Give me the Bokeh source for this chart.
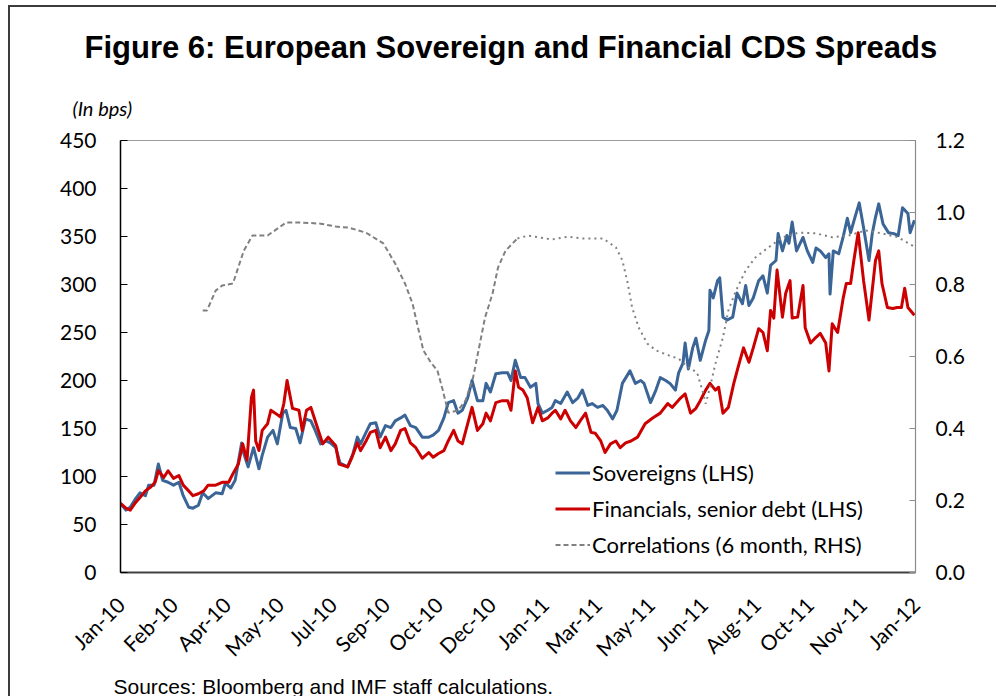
import pandas as pd
from bokeh.plotting import figure
from bokeh.models import (Range1d, LinearAxis, FixedTicker, Title, Legend, LegendItem,
                          NumeralTickFormatter, ColumnDataSource)
from bokeh.embed import file_html
from bokeh.resources import INLINE
import math

START = "2010-01-04"

# days since 2010-01-04
sov_days = [0,5,9,14,18,23,26,31,35,39,44,49,54,58,63,67,72,76,81,88,94,97,102,106,112,114,118,123,128,131,
            136,141,145,150,153,157,162,166,171,176,180,185,190,194,199,203,210,215,219,222,227,231,236,240,245,250,254,259,263,268,
            273,279,285,289,294,299,303,308,312,316,321,325,330,335,338,342,347,353,358,361,365,370,374,379,384,386,390,395,399,402,
            407,413,418,423,427,432,436,441,446,450,455,459,464,471,476,481,484,490,495,499,504,508,513,516,520,522,525,529,532,536,
            541,544,545,548,552,554,557,561,566,570,575,578,581,585,590,594,598,601,606,608,612,616,618,621,625,631,635,640,643,647,
            652,655,656,659,664,668,672,675,679,683,687,692,695,698,701,705,710,715,719,723,728,730,734]
sov_vals = [72,65,68,77,83,80,91,91,113,96,94,91,94,80,68,67,70,83,77,83,82,93,88,96,135,124,110,130,108,122,
            141,148,134,166,169,151,150,135,160,158,148,134,137,135,130,114,110,124,141,134,146,155,156,141,153,151,158,161,164,153,
            151,141,141,143,148,161,177,179,166,169,182,200,179,179,197,188,207,208,208,200,221,203,203,193,197,176,166,169,172,179,
            176,188,177,182,190,174,176,172,174,169,160,169,197,210,197,200,197,177,190,203,200,197,190,208,218,239,212,234,244,221,
            242,252,294,286,304,307,266,263,266,291,280,299,278,286,304,309,291,320,325,353,335,351,343,365,335,349,335,323,338,335,
            328,332,290,335,332,349,369,354,370,385,359,325,353,370,384,363,354,353,351,380,374,354,367]

fin_days = [0,5,9,14,18,23,28,32,35,40,44,49,54,58,63,67,72,77,81,88,94,100,104,109,113,117,121,123,125,128,
            131,136,139,143,148,151,154,159,165,168,172,176,180,187,192,199,202,210,214,219,222,227,231,236,240,245,250,254,259,263,
            268,273,279,285,289,294,299,303,308,312,316,321,325,330,335,338,342,347,353,358,361,365,368,372,376,381,386,390,395,399,
            402,407,411,416,421,425,430,435,439,444,448,453,458,462,467,472,478,485,492,499,506,510,518,522,527,532,536,541,545,550,
            553,557,562,567,571,576,581,585,590,594,598,601,604,607,612,615,619,621,626,631,633,638,643,647,652,655,658,663,668,671,
            675,678,682,687,692,695,698,701,704,709,714,718,722,725,728,734]
fin_vals = [72,67,65,73,78,85,89,94,106,99,106,98,101,91,85,80,82,85,91,91,94,94,103,113,134,117,182,190,137,127,
            148,155,169,166,162,176,200,171,169,148,169,172,158,134,141,132,113,110,120,135,127,137,146,148,130,141,127,134,148,150,
            135,130,119,125,120,124,127,137,148,137,134,155,172,148,155,166,158,177,179,179,169,210,193,190,182,156,172,158,161,166,
            169,160,169,158,151,158,166,146,145,137,125,134,137,130,135,137,141,155,161,166,176,172,182,186,166,171,179,190,197,190,
            193,166,172,197,214,234,219,234,254,250,231,273,265,315,266,291,304,265,266,299,255,239,245,249,239,210,259,250,285,301,
            301,325,354,304,263,294,325,335,301,276,275,276,276,296,276,268]

corr_days = [76,80,88,94,104,114,122,136,153,168,185,199,211,227,243,254,263,270,275,280,
             287,293,298,303,312,319,326,331,337,344,349,356,367,377,399,414,427,446,458,464,
             469,473,479,487,495,507,516,525,533,538,541,545,550,557,562,569,578,587,599,612,
             627,643,658,673,689,704,719,735]
corr_vals = [0.728,0.728,0.783,0.797,0.803,0.894,0.936,0.936,0.972,0.972,0.969,0.961,0.958,0.944,0.914,0.858,0.803,0.747,0.681,0.617,
             0.583,0.561,0.506,0.444,0.450,0.478,0.542,0.617,0.708,0.775,0.847,0.894,0.928,0.936,0.925,0.933,0.928,0.928,0.903,0.867,
             0.803,0.736,0.681,0.636,0.617,0.603,0.594,0.569,0.556,0.506,0.469,0.514,0.58,0.653,0.728,0.783,0.839,0.875,0.903,0.931,
             0.944,0.942,0.931,0.936,0.950,0.942,0.931,0.903]

xtick_labels = ["Jan-10","Feb-10","Apr-10","May-10","Jul-10","Sep-10","Oct-10","Dec-10",
                "Jan-11","Mar-11","May-11","Jun-11","Aug-11","Oct-11","Nov-11","Jan-12"]
left_ticks = [0,50,100,150,200,250,300,350,400,450]
right_ticks = [0.0,0.2,0.4,0.6,0.8,1.0,1.2]

t0 = pd.Timestamp(START)
def to_dt(days):
    return [t0 + pd.Timedelta(days=d) for d in days]
def ms(ts):
    return int((ts - pd.Timestamp("1970-01-01")) // pd.Timedelta(milliseconds=1))

tick_ts = [t0 + pd.Timedelta(days=49 * k) for k in range(len(xtick_labels))]
tick_ms = [ms(t) for t in tick_ts]

BLUE = "#3A6596"
RED = "#CC0000"
GRAY = "#808080"
FONT = "Lato"
TICK_SIZE = "21px"

p = figure(width=988, height=691, x_axis_type="datetime", output_backend="svg",
           toolbar_location=None, title=None, x_range=Range1d(tick_ms[0], tick_ms[-1]),
           y_range=Range1d(0, 450), min_border_left=110, min_border_right=83,
           min_border_top=133, min_border_bottom=126)
p.styles = {"margin-left": "8px", "margin-top": "5px",
            "border-top": "2px solid #3C3C3C", "border-left": "2px solid #3C3C3C"}
p.xgrid.visible = False
p.ygrid.visible = False
p.outline_line_color = "#9A9A9A"
p.outline_line_width = 1
p.background_fill_color = "white"
p.border_fill_color = "white"

p.extra_y_ranges = {"corr": Range1d(0, 1.2)}

# left axis
ya = p.yaxis[0]
ya.ticker = FixedTicker(ticks=left_ticks)
ya.axis_line_color = "#000000"
ya.axis_line_width = 1.5
ya.major_tick_in = 7
ya.major_tick_out = 0
ya.major_tick_line_color = "#000000"
ya.major_tick_line_width = 1.2
ya.minor_tick_line_color = None
ya.major_label_text_font = FONT
ya.major_label_text_font_size = TICK_SIZE
ya.major_label_text_color = "#000000"
ya.major_label_standoff = 24

# right axis
ra = LinearAxis(y_range_name="corr", ticker=FixedTicker(ticks=right_ticks),
                formatter=NumeralTickFormatter(format="0.0"))
ra.axis_line_color = "#8C8C8C"
ra.axis_line_width = 1.2
ra.major_tick_in = 6
ra.major_tick_out = 0
ra.major_tick_line_color = "#8C8C8C"
ra.minor_tick_line_color = None
ra.major_label_text_font = FONT
ra.major_label_text_font_size = TICK_SIZE
ra.major_label_text_color = "#000000"
ra.major_label_standoff = 20
p.add_layout(ra, "right")

# bottom axis
xa = p.xaxis[0]
xa.ticker = FixedTicker(ticks=tick_ms)
xa.major_label_overrides = {t: lab for t, lab in zip(tick_ms, xtick_labels)}
xa.major_label_orientation = math.pi / 4
xa.axis_line_color = "#404040"
xa.axis_line_width = 2
xa.major_tick_line_color = None
xa.minor_tick_line_color = None
xa.major_label_text_font = FONT
xa.major_label_text_font_size = TICK_SIZE
xa.major_label_text_color = "#000000"
xa.major_label_standoff = 22

sov_src = ColumnDataSource(dict(x=to_dt(sov_days), y=sov_vals))
fin_src = ColumnDataSource(dict(x=to_dt(fin_days), y=fin_vals))
split = corr_days.index(367)
c1 = ColumnDataSource(dict(x=to_dt(corr_days[:split + 1]), y=corr_vals[:split + 1]))
c2 = ColumnDataSource(dict(x=to_dt(corr_days[split:]), y=corr_vals[split:]))

r_sov = p.line("x", "y", source=sov_src, line_color=BLUE, line_width=3, line_join="round")
r_fin = p.line("x", "y", source=fin_src, line_color=RED, line_width=3, line_join="round")
r_c1 = p.line("x", "y", source=c1, y_range_name="corr", line_color=GRAY, line_width=2,
              line_dash="5 3")
r_c2 = p.line("x", "y", source=c2, y_range_name="corr", line_color=GRAY, line_width=2,
              line_dash="2 4")

legend = Legend(items=[LegendItem(label="Sovereigns (LHS)", renderers=[r_sov]),
                       LegendItem(label="Financials, senior debt (LHS)", renderers=[r_fin]),
                       LegendItem(label="Correlations (6 month, RHS)", renderers=[r_c1])],
                location=(435, 14))
legend.background_fill_alpha = 0
legend.border_line_color = None
legend.label_text_font = FONT
legend.label_text_font_size = "22px"
legend.label_text_color = "#000000"
legend.glyph_width = 35
legend.glyph_height = 27
legend.label_height = 27
legend.spacing = 9
legend.padding = 0
legend.margin = 0
legend.label_standoff = 2
p.add_layout(legend)

unit_t = Title(text="(In bps)", align="left", offset=-48, standoff=41,
               text_font=FONT, text_font_style="italic", text_font_size="20px",
               text_color="#000000")
p.add_layout(unit_t, "above")

main_t = Title(text="Figure 6: European Sovereign and Financial CDS Spreads",
               align="left", offset=-36, standoff=17,
               text_font="Liberation Sans", text_font_style="bold",
               text_font_size="31px", text_color="#000000")
p.add_layout(main_t, "above")

src_t = Title(text="Sources: Bloomberg and IMF staff calculations.", align="left",
              offset=-7, standoff=0, text_font="Liberation Sans",
              text_font_style="normal", text_font_size="21px", text_color="#000000")
p.add_layout(src_t, "below")

open("out.html", "w").write(file_html(p, INLINE))
